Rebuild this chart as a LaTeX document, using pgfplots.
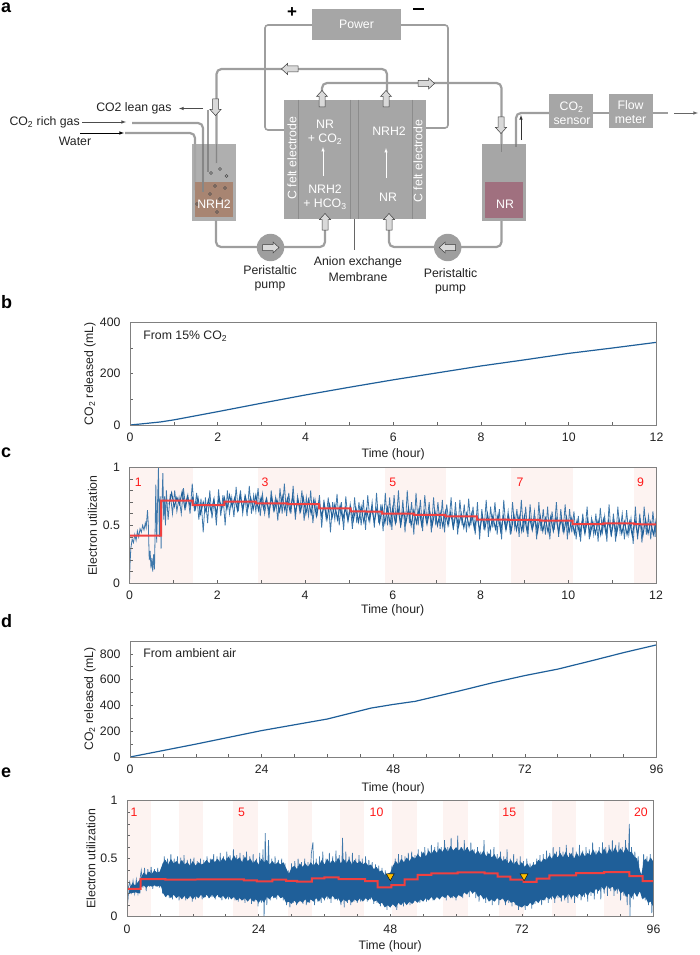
\documentclass[border=0pt]{standalone}
\usepackage{fontspec}
\usepackage{pgfplots}
\pgfplotsset{compat=1.18}
\setmainfont{Liberation Sans}
\definecolor{boxg}{HTML}{A6A6A6}
\definecolor{lineg}{HTML}{8C8C8C}
\definecolor{tube}{HTML}{9E9E9E}
\definecolor{txt}{HTML}{222222}
\definecolor{blue1}{HTML}{1F5F99}
\definecolor{blue2}{HTML}{3F78AB}
\definecolor{redl}{HTML}{F04040}
\definecolor{shadeP}{HTML}{FDF3F1}
\definecolor{tri}{HTML}{FFC000}
\definecolor{brownB}{HTML}{A88572}
\definecolor{purpB}{HTML}{A0707F}
\newcommand\fs[1]{\ifnum#1=12 \fontsize{12.3}{12.3}\else\fontsize{#1}{#1}\fi\selectfont}
\newcommand\harrow[3]{\begin{scope}[shift={(#1,#2)},rotate=#3]
\path[fill=gray!30,draw=black!75,line width=.5pt] (0,-8.5)--(5.5,-2.5)--(3,-2.5)--(3,8)--(-3,8)--(-3,-2.5)--(-5.5,-2.5)--cycle;\end{scope}}
\newcommand\sh[2]{\addplot[fill=shadeP,draw=none,forget plot] coordinates {(#1,0)(#1,1)(#2,1)(#2,0)} -- cycle;}
\pgfplotsset{panel/.style={scale only axis,width=526.5pt,axis on top,
  axis line style={draw=gray,line width=.9pt},
  tick style={draw=gray!80!black,line width=.6pt},
  tick align=inside,tick pos=left,
  major tick length=3.2pt,minor tick length=3.2pt,
  tick label style={font=\fs{12},text=txt},
  /pgf/number format/assume math mode=true,
  xticklabel shift=4.5pt,yticklabel shift=6pt,
  label style={font=\fs{12},text=txt},
  xlabel={Time (hour)},
  xlabel style={at={(axis description cs:0.5,0)},anchor=center},
  ylabel style={at={(axis description cs:0,0.5)},anchor=center},
}}
\begin{document}
\begin{tikzpicture}
\path[use as bounding box] (0,0) rectangle (699pt,-955pt);
% ---------- panel a
\begin{scope}[x=1pt,y=-1pt]
\begin{scope}[line width=1.6pt,draw=tube,rounded corners=3pt]
\draw (312,25)--(265,25)--(265,130)--(286,130);
\draw (400,25)--(448,25)--(448,128)--(424,128);
\end{scope}
\fill[boxg] (312,9) rectangle (400.7,40);
\node[text=white,font=\fs{12}] at (356.5,24.5) {Power};
\node[font=\fs{17}\bfseries,text=black] at (292,12.5) {+};
\fill[black] (412.5,8.2) rectangle (423.5,9.8);
% cell
\fill[boxg] (284,100) rectangle (426,218.6);
\draw[lineg,line width=.5pt] (298,100)--(298,218.6) (350,100)--(350,218.6) (358,100)--(358,218.6) (412.7,100)--(412.7,218.6);
\draw[gray!80!black,line width=.5pt] (354,218.6)--(354,250);
\node[rotate=90,text=white,font=\fs{12}] at (292,158) {C felt electrode};
\node[rotate=90,text=white,font=\fs{12}] at (418,161) {C felt electrode};
\node[text=white,font=\fs{12}] at (325,124) {NR};
\node[text=white,font=\fs{12}] at (325,139.5) {+ CO\textsubscript{2}};
\node[text=white,font=\fs{12}] at (325,189) {NRH2};
\node[text=white,font=\fs{12}] at (325,204.5) {+ HCO\textsubscript{3}};
\node[text=white,font=\fs{12}] at (389,131) {NRH2};
\node[text=white,font=\fs{12}] at (388,197) {NR};
\draw[white,line width=.5pt,-latex] (323,176)--(323,147);
\draw[white,line width=.5pt,-latex] (386,178)--(386,148);
% tubes
\begin{scope}[line width=2.2pt,draw=tube,rounded corners=5pt]
\draw (387,100)--(387,69)--(216.5,69)--(216.5,163);
\draw (322,100)--(322,83)--(501.5,83)--(501.5,152);
\draw (216,220)--(216,247)--(325,247)--(325,225);
\draw (501.5,220)--(501.5,247)--(389,247)--(389,225);
\draw (516,146)--(516,113)--(552,113);
\draw (132,123)--(203,123)--(203,192);
\draw (125,133)--(195,133)--(195,190);
\draw (208,110)--(208,172);
\draw (592,113)--(610,113);
\draw (651,113)--(668,113);
\end{scope}
% beakers
\fill[boxg,opacity=.9] (192.3,144) rectangle (236,220.5);
\fill[boxg] (482,144) rectangle (525.7,220.5);
\fill[brownB] (195,182) rectangle (232.7,217);
\fill[purpB] (485,182) rectangle (523,218);
\begin{scope}[line width=1.6pt,draw=tube!85!black]
\draw (203,144)--(203,192);\draw (208,144)--(208,172);\draw (216.5,144)--(216.5,163);
\draw (501.5,144)--(501.5,152);\draw (516,144)--(516,147);
\end{scope}
\foreach \a/\b in {211/173,226.5/176,220/169,215/186,225/188,210/194,220/199,197/204,217/212}
  \draw[gray!60!black,line width=.5pt] (\a,\b) circle (1.5);
\node[text=white,font=\fs{12}] at (214,204) {NRH2};
\node[text=white,font=\fs{12}] at (505,204.5) {NR};
% pumps
\fill[tube] (270.5,247.5) circle (13.7);
\fill[tube] (447.7,247.5) circle (13.7);
\harrow{270.5}{247.5}{-90}
\harrow{447.7}{247.5}{90}
% hollow arrows
\harrow{290}{69}{90}
\harrow{322}{99}{0}
\harrow{215.5}{107}{180}
\harrow{426}{83.5}{-90}
\harrow{501}{125}{180}
\harrow{386}{99}{0}
\harrow{325}{222}{0}
\harrow{389}{222}{0}
% boxes right
\fill[boxg] (549.3,94) rectangle (593,128);
\fill[boxg] (609,94) rectangle (652.7,128);
\node[text=white,font=\fs{12}] at (571.5,107) {CO\textsubscript{2}};
\node[text=white,font=\fs{12}] at (572,121) {sensor};
\node[text=white,font=\fs{12}] at (630.5,105) {Flow};
\node[text=white,font=\fs{12}] at (630.5,120) {meter};
\draw[gray!80!black,line width=.6pt,-latex] (674,113)--(698,113);
\draw[gray!40!black,line width=.6pt,-latex] (521,140)--(521,115);
% left labels
\node[text=txt,font=\fs{12},anchor=east] at (175,108) {CO2 lean gas};
\draw[gray!60!black,line width=.6pt,-latex] (203,108.5)--(179,108.5);
\node[text=txt,font=\fs{12},anchor=west] at (6,122) {CO\textsubscript{2} rich gas};
\draw[gray!60!black,line width=.6pt,-latex] (82,122)--(126,122);
\node[text=txt,font=\fs{12}] at (75,141) {Water};
\draw[black,line width=.6pt,-latex] (80,133)--(124,133);
\node[text=txt,font=\fs{12}] at (270,270) {Peristaltic};
\node[text=txt,font=\fs{12}] at (270,286) {pump};
\node[text=txt,font=\fs{12}] at (450.5,273.5) {Peristaltic};
\node[text=txt,font=\fs{12}] at (450.5,289) {pump};
\node[text=txt,font=\fs{12}] at (358,262) {Anion exchange};
\node[text=txt,font=\fs{12}] at (358,277) {Membrane};
% panel letters
\foreach \l/\yy in {a/7.5,b/302,c/453,d/621,e/773}
  \node[font=\fs{18}\bfseries,text=black,anchor=west,inner sep=0pt] at (1,\yy) {\l};
\end{scope}
% ---------- panel b
\begin{axis}[panel,at={(130pt,-425pt)},anchor=south west,height=102.7pt,
  xmin=0,xmax=12,ymin=0,ymax=400,xtick={0,2,...,12},minor x tick num=1,
  ytick={0,200,400},minor y tick num=1,
  xlabel style={yshift=-29pt},
  ylabel={CO\textsubscript{2} released (mL)},ylabel style={yshift=40pt}]
\addplot[blue1,line width=1.2pt] coordinates {(0,0)(0.3,5)(0.7,12)(1,20)(2,52)(3,85)(4,117)(5,147)(6,176)(7,203)(8,230)(9,254)(10,279)(11,300)(12,322)};
\node[font=\fs{12},text=txt,anchor=west,inner sep=0pt] at (axis cs:0.3,347) {From 15\% CO\textsubscript{2}};
\end{axis}
% ---------- panel c
\begin{axis}[panel,at={(129.5pt,-583.3pt)},anchor=south west,height=116pt,
  xmin=0,xmax=12,ymin=0,ymax=1,xtick={0,2,...,12},minor x tick num=1,
  ytick={0,0.5,1},minor y tick num=4,
  xlabel style={yshift=-27pt},
  ylabel={Electron utilization},ylabel style={yshift=37pt}]
\sh{0}{1.44}\sh{2.94}{4.34}\sh{5.82}{7.22}\sh{8.7}{10.1}\sh{11.5}{12}
\addplot[blue2,line width=.8pt] coordinates {(0,0)(.01,.15)(.03,.3)(.06,.38)(.09,.35)(.12,.42)(.15,.37)(.18,.45)(.21,.4)(.24,.47)(.27,.44)(.3,.5)(.33,.46)(.36,.52)(.38,.48)(.41,.63)(.43,.5)(.45,.2)(.47,.28)(.49,.13)(.51,.22)(.53,.1)(.55,.25)(.57,.12)(.59,.6)(.6,.85)(.62,.35)(.64,.7)(.66,1)(.68,.4)(.7,.75)(.72,.3)(.74,.7)(.76,.95)(.78,.55)(.8,.75)(.82,.5)(.84,.8)
(.88,.55)(.93,.77)(.98,.6)(1.03,.8)(1.08,.62)(1.13,.74)(1.18,.6)(1.23,.82)(1.28,.65)(1.33,.76)(1.38,.6)(1.43,.86)(1.48,.62)(1.53,.78)(1.58,.55)(1.63,.73)(1.68,.44)(1.73,.74)(1.78,.52)(1.83,.8)(1.88,.56)(1.93,.72)(1.98,.5)(2.03,.81)(2.08,.58)(2.13,.76)(2.18,.5)(2.23,.8)(2.28,.6)(2.33,.74)(2.38,.57)(2.43,.83)(2.48,.62)(2.53,.8)(2.58,.6)(2.63,.75)(2.68,.58)(2.73,.84)(2.78,.6)(2.83,.76)(2.88,.62)(2.93,.82)(2.98,.58)(3.03,.77)(3.08,.6)(3.13,.72)(3.18,.56)(3.23,.8)(3.28,.63)(3.33,.74)(3.38,.54)(3.43,.82)(3.48,.6)(3.53,.86)(3.58,.58)(3.63,.78)(3.68,.6)(3.73,.84)(3.78,.55)(3.83,.75)(3.88,.62)(3.93,.8)(3.98,.54)(4.03,.74)(4.08,.58)(4.13,.8)(4.18,.52)(4.23,.72)(4.28,.6)(4.33,.76)(4.38,.48)(4.43,.72)(4.48,.56)(4.53,.74)(4.58,.44)(4.63,.7)(4.68,.55)(4.73,.77)(4.78,.5)(4.83,.7)(4.88,.46)(4.93,.75)(4.98,.54)(5.03,.68)(5.08,.47)(5.13,.74)(5.18,.52)(5.23,.7)(5.28,.5)(5.33,.72)(5.38,.46)(5.43,.76)(5.48,.54)(5.53,.7)(5.58,.48)(5.63,.78)(5.68,.52)(5.73,.68)(5.78,.45)(5.83,.78)(5.88,.5)(5.93,.74)(5.98,.46)(6.03,.76)(6.08,.52)(6.13,.8)(6.18,.48)(6.23,.72)(6.28,.44)(6.33,.8)(6.38,.52)(6.43,.7)(6.48,.42)(6.53,.78)(6.58,.5)(6.63,.72)(6.68,.45)(6.73,.76)(6.78,.52)(6.83,.7)(6.88,.44)(6.93,.74)(6.98,.5)(7.03,.7)(7.08,.47)(7.13,.72)(7.18,.44)(7.23,.68)(7.28,.52)(7.33,.74)(7.38,.46)(7.43,.7)(7.48,.42)(7.53,.72)(7.58,.5)(7.63,.68)(7.68,.44)(7.73,.73)(7.78,.5)(7.83,.66)(7.88,.42)(7.93,.7)(7.98,.38)(8.03,.64)(8.08,.46)(8.13,.72)(8.18,.4)(8.23,.66)(8.28,.48)(8.33,.7)(8.38,.42)(8.43,.64)(8.48,.38)(8.53,.72)(8.58,.46)(8.63,.62)(8.68,.42)(8.73,.7)(8.78,.48)(8.83,.64)(8.88,.4)(8.93,.72)(8.98,.44)(9.03,.66)(9.08,.4)(9.13,.68)(9.18,.47)(9.23,.62)(9.28,.38)(9.33,.7)(9.38,.45)(9.43,.64)(9.48,.42)(9.53,.66)(9.58,.38)(9.63,.62)(9.68,.46)(9.73,.7)(9.78,.4)(9.83,.64)(9.88,.44)(9.93,.68)(9.98,.38)(10.03,.64)(10.08,.44)(10.13,.62)(10.18,.38)(10.23,.58)(10.28,.36)(10.33,.6)(10.38,.44)(10.43,.66)(10.48,.38)(10.53,.56)(10.58,.42)(10.63,.6)(10.68,.36)(10.73,.65)(10.78,.44)(10.83,.58)(10.88,.36)(10.93,.68)(10.98,.4)(11.03,.6)(11.08,.36)(11.13,.66)(11.18,.44)(11.23,.6)(11.28,.38)(11.33,.63)(11.38,.42)(11.43,.56)(11.48,.34)(11.53,.66)(11.58,.38)(11.63,.6)(11.68,.35)(11.73,.66)(11.78,.42)(11.83,.58)(11.88,.38)(11.93,.62)(11.98,.4)(12,.56)};
\addplot[blue1,line width=1pt] coordinates {(.9,.68)(.96,.78)(1.02,.66)(1.08,.74)(1.14,.68)(1.2,.79)(1.26,.65)(1.32,.75)(1.38,.67)(1.44,.74)(1.5,.64)(1.56,.74)(1.62,.6)(1.68,.7)(1.74,.62)(1.8,.72)(1.86,.62)(1.92,.72)(1.98,.6)(2.04,.74)(2.1,.64)(2.16,.74)(2.22,.64)(2.28,.76)(2.34,.66)(2.4,.74)(2.46,.63)(2.52,.76)(2.58,.64)(2.64,.75)(2.7,.65)(2.76,.74)(2.82,.64)(2.88,.76)(2.94,.63)(3,.74)(3.06,.64)(3.12,.73)(3.18,.62)(3.24,.74)(3.3,.63)(3.36,.72)(3.42,.62)(3.48,.75)(3.54,.63)(3.6,.73)(3.66,.62)(3.72,.75)(3.78,.61)(3.84,.72)(3.9,.62)(3.96,.74)(4.02,.6)(4.08,.72)(4.14,.6)(4.2,.72)(4.26,.58)(4.32,.7)(4.38,.58)(4.44,.68)(4.5,.55)(4.56,.68)(4.62,.57)(4.68,.68)(4.74,.55)(4.8,.67)(4.86,.55)(4.92,.65)(4.98,.54)(5.04,.66)(5.1,.54)(5.16,.65)(5.22,.53)(5.28,.66)(5.34,.53)(5.4,.64)(5.46,.54)(5.52,.65)(5.58,.53)(5.64,.65)(5.7,.52)(5.76,.66)(5.82,.52)(5.88,.65)(5.94,.51)(6,.65)(6.06,.52)(6.12,.65)(6.18,.5)(6.24,.63)(6.3,.52)(6.36,.65)(6.42,.5)(6.48,.63)(6.54,.52)(6.6,.64)(6.66,.5)(6.72,.62)(6.78,.51)(6.84,.62)(6.9,.5)(6.96,.62)(7.02,.5)(7.08,.61)(7.14,.49)(7.2,.62)(7.26,.5)(7.32,.61)(7.38,.48)(7.44,.6)(7.5,.49)(7.56,.6)(7.62,.48)(7.68,.6)(7.74,.49)(7.8,.6)(7.86,.47)(7.92,.58)(7.98,.46)(8.04,.58)(8.1,.47)(8.16,.6)(8.22,.46)(8.28,.58)(8.34,.47)(8.4,.59)(8.46,.45)(8.52,.58)(8.58,.46)(8.64,.58)(8.7,.45)(8.76,.59)(8.82,.46)(8.88,.58)(8.94,.45)(9,.58)(9.06,.45)(9.12,.57)(9.18,.46)(9.24,.56)(9.3,.44)(9.36,.58)(9.42,.45)(9.48,.56)(9.54,.44)(9.6,.57)(9.66,.45)(9.72,.57)(9.78,.44)(9.84,.56)(9.9,.44)(9.96,.57)(10.02,.44)(10.08,.56)(10.14,.43)(10.2,.54)(10.26,.42)(10.32,.54)(10.38,.43)(10.44,.55)(10.5,.42)(10.56,.53)(10.62,.43)(10.68,.54)(10.74,.42)(10.8,.55)(10.86,.43)(10.92,.54)(10.98,.42)(11.04,.54)(11.1,.42)(11.16,.55)(11.22,.43)(11.28,.53)(11.34,.42)(11.4,.53)(11.46,.41)(11.52,.55)(11.58,.42)(11.64,.54)(11.7,.41)(11.76,.55)(11.82,.43)(11.88,.53)(11.94,.42)(12,.53)};
\addplot[redl,line width=2pt] coordinates {(0,.41)(.72,.41)(.72,.713)(1.44,.713)(1.44,.675)(2.16,.675)(2.16,.704)(2.88,.704)(2.88,.69)(3.6,.69)(3.6,.682)(4.32,.682)(4.32,.647)(5.04,.647)(5.04,.62)(5.76,.618)(5.76,.60)(6.48,.60)(6.48,.59)(7.2,.59)(7.2,.578)(7.92,.578)(7.92,.55)(8.64,.55)(8.64,.546)(9.36,.546)(9.36,.54)(10.1,.54)(10.1,.51)(10.8,.51)(10.8,.517)(11.5,.517)(11.5,.51)(12,.507)};
\foreach \a/\l in {.2/1,3.09/3,6/5,8.9/7,11.65/9}{\edef\tmp{\noexpand\node[font=\noexpand\fs{12},text=red!90!white] at (axis cs:\a,.867) {\l};}\tmp}
\end{axis}
% ---------- panel d
\begin{axis}[panel,at={(130pt,-757pt)},anchor=south west,height=116pt,
  xmin=0,xmax=96,ymin=0,ymax=900,xtick={0,24,...,96},minor x tick num=3,
  ytick={0,200,...,800},minor y tick num=1,
  xlabel style={yshift=-31pt},
  ylabel={CO\textsubscript{2} released (mL)},ylabel style={yshift=40pt}]
\addplot[blue1,line width=1.2pt] coordinates {(0,0)(6,50)(12,100)(24,205)(36,295)(44,380)(48,408)(52,432)(60,512)(66,575)(72,632)(78,682)(84,745)(90,810)(96,870)};
\node[font=\fs{12},text=txt,anchor=west,inner sep=0pt] at (axis cs:2.4,805) {From ambient air};
\end{axis}
% ---------- panel e
\begin{axis}[panel,at={(127pt,-916.7pt)},anchor=south west,height=116pt,
  xmin=0,xmax=96,ymin=0,ymax=1,xtick={0,24,...,96},minor x tick num=3,
  ytick={0,0.5,1},minor y tick num=4,
  xlabel style={yshift=-30pt},
  ylabel={Electron utilization},ylabel style={yshift=36pt}]
\sh{0}{4.43}\sh{9.5}{13.9}\sh{19.4}{23.9}\sh{29.3}{33.7}\sh{38.9}{43.3}\sh{48.4}{52.9}\sh{57.7}{62.2}\sh{67.9}{72.3}\sh{77.5}{81.9}\sh{87}{91.5}
\addplot[blue2,line width=.7pt] coordinates {(0,0)(.2,.24)(.5,.3)(.8,.21)(1.1,.31)(1.4,.2)(1.7,.32)(2,.2)(2.3,.3)
(2.6,.40)(2.9,.25)(3.2,.42)(3.5,.22)(3.8,.41)(4.1,.26)(4.4,.43)(4.7,.24)(5,.41)(5.3,.26)(5.6,.42)(5.9,.25)(6.2,.41)(6.5,.2)
(6.8,.52)(7.1,.17)(7.4,.5)(7.7,.16)(8,.54)(8.3,.15)(8.6,.5)(8.9,.17)(9.2,.52)(9.5,.14)(9.8,.51)(10.1,.16)(10.4,.53)(10.7,.14)(11,.49)(11.3,.16)(11.6,.5)(11.9,.13)(12.2,.51)(12.5,.15)(12.8,.48)(13.1,.16)(13.4,.5)(13.7,.15)(14,.49)(14.3,.17)(14.6,.52)(14.9,.16)(15.2,.5)(15.5,.17)(15.8,.54)(16.1,.15)(16.4,.52)(16.7,.17)(17,.55)(17.3,.14)(17.6,.52)(17.9,.16)(18.2,.56)(18.5,.15)(18.8,.53)(19.1,.16)(19.4,.58)(19.7,.14)(20,.53)(20.3,.13)(20.6,.55)(20.9,.14)(21.2,.53)(21.5,.12)(21.8,.56)(22.1,.14)(22.4,.52)(22.7,.11)(23,.54)(23.3,.13)(23.6,.5)(23.9,.09)(24.2,.55)(24.5,.12)(24.8,.58)(25,0)(25.2,.72)(25.5,.1)(25.8,.66)(26.1,.14)
(26.4,.5)(26.7,.16)(27,.52)(27.3,.15)(27.6,.49)(27.9,.17)(28.2,.5)(28.5,.14)(28.8,.46)(29.1,.1)(29.4,.4)(29.7,.08)(30,.46)(30.3,.12)(30.6,.48)(30.9,.1)(31.2,.5)(31.5,.13)(31.8,.47)(32.1,.11)(32.4,.5)(32.7,.1)(33,.47)(33.3,.12)(33.6,.54)(33.9,.64)(34.2,.1)(34.5,.5)(34.8,.13)(35.1,.52)(35.4,.12)(35.7,.56)(36,.14)(36.3,.5)(36.6,.15)(36.9,.55)(37.2,.12)(37.5,.52)(37.8,.15)(38.1,.57)(38.4,.14)(38.7,.53)(39,.1)(39.3,.68)(39.6,.08)(39.9,.56)(40.2,.12)(40.5,.52)(40.8,.1)(41.1,.55)(41.4,.13)(41.7,.5)(42,.12)(42.3,.53)(42.6,.13)(42.9,.5)(43.2,.14)(43.5,.52)(43.8,.13)(44.1,.49)(44.4,.15)(44.7,.47)(45,.11)(45.3,.45)(45.6,.12)(45.9,.44)(46.2,.09)(46.5,.42)(46.8,.1)(47.1,.4)(47.4,.06)(47.7,.37)(48,.08)(48.3,.44)(48.6,.1)(48.9,.5)(49.2,.06)(49.5,.54)(49.8,.1)(50.1,.53)(50.4,.09)(50.7,.52)(51,.12)(51.3,.55)(51.6,.1)(51.9,.56)(52.2,.12)(52.5,.53)(52.8,.14)(53.1,.58)(53.4,.12)(53.7,.56)(54,.16)(54.3,.6)(54.6,.13)(54.9,.59)(55.2,.16)(55.5,.62)(55.8,.14)(56.1,.6)(56.4,.18)(56.7,.64)(57,.15)(57.3,.6)(57.6,.17)(57.9,.66)(58.2,.14)(58.5,.6)(58.8,.18)(59.1,.68)(59.4,.16)(59.7,.58)(60,.14)(60.3,.7)(60.6,.18)(60.9,.6)(61.2,.16)(61.5,.66)(61.8,.2)(62.1,.6)(62.4,.17)(62.7,.64)(63,.2)(63.3,.58)(63.6,.16)(63.9,.6)(64.2,.13)(64.5,.56)(64.8,.18)(65.1,.66)(65.4,.12)(65.7,.56)(66,.16)(66.3,.58)(66.6,.1)(66.9,.6)(67.2,.14)(67.5,.54)(67.8,.1)(68.1,.56)(68.4,.15)(68.7,.52)(69,.1)(69.3,.58)(69.6,.12)(69.9,.5)(70.2,.09)(70.5,.54)(70.8,.1)(71.1,.5)(71.4,.06)(71.7,.52)(72,.08)(72.3,.48)(72.6,.06)(72.9,.5)(73.2,.1)(73.5,.46)(73.8,.07)(74.1,.47)(74.4,.11)(74.7,.5)(75,.12)(75.3,.53)(75.6,.1)(75.9,.54)(76.2,.14)(76.5,.57)(76.8,.12)(77.1,.55)(77.4,.15)(77.7,.6)(78,.12)(78.3,.56)(78.6,.16)(78.9,.6)(79.2,.13)(79.5,.56)(79.8,.14)(80.1,.62)(80.4,.12)(80.7,.55)(81,.15)(81.3,.6)(81.6,.12)(81.9,.56)(82.2,.16)(82.5,.62)(82.8,.14)(83.1,.57)(83.4,.17)(83.7,.6)(84,.13)(84.3,.58)(84.6,.18)(84.9,.64)(85.2,.15)(85.5,.57)(85.8,.2)(86.1,.6)(86.4,.15)(86.7,.64)(87,.2)(87.3,.6)(87.6,.18)(87.9,.62)(88.2,.22)(88.5,.66)(88.8,.18)(89.1,.62)(89.4,.2)(89.7,.64)(90,.14)(90.3,.6)(90.6,.18)(90.9,.66)(91.2,.1)(91.6,.8)(91.7,0)(92,.6)(92.3,.15)(92.6,.56)(92.9,.18)(93.2,.52)(93.5,.3)(93.7,.36)(93.9,.16)(94.2,.54)(94.5,.14)(94.8,.52)(95.1,.1)(95.4,.54)(95.7,.03)(96,.5)};
\addplot[fill=blue1,draw=none] coordinates {(0,0)(.3,.2)(.5,.25)(1,.29)(1.5,.27)(2,.30)(2.5,.33)(3,.38)(3.5,.36)(4,.39)(4.5,.37)(5,.40)(5.5,.38)(6,.39)(6.5,.46)(7,.49)(7.5,.45)(8,.50)(8.5,.46)(9,.48)(9.5,.45)(10,.49)(10.5,.45)(11,.47)(11.5,.44)(12,.48)(12.5,.44)(13,.47)(13.5,.45)(14,.46)(14.5,.49)(15,.46)(15.5,.5)(16,.47)(16.5,.5)(17,.47)(17.5,.51)(18,.48)(18.5,.52)(19,.48)(19.5,.53)(20,.49)(20.5,.51)(21,.47)(21.5,.52)(22,.48)(22.5,.5)(23,.46)(23.5,.49)(24,.45)(24.5,.5)(25,.47)(25.5,.49)(26,.45)(26.5,.48)(27,.45)(27.5,.47)(28,.45)(28.5,.47)(29,.42)(29.5,.37)(30,.42)(30.5,.44)(31,.41)(31.5,.46)(32,.43)(32.5,.46)(33,.43)(33.5,.47)(34,.44)(34.5,.47)(35,.44)(35.5,.49)(36,.45)(36.5,.5)(37,.46)(37.5,.49)(38,.46)(38.5,.51)(39,.46)(39.5,.5)(40,.46)(40.5,.5)(41,.45)(41.5,.49)(42,.46)(42.5,.48)(43,.45)(43.5,.47)(44,.44)(44.5,.45)(45,.41)(45.5,.43)(46,.39)(46.5,.4)(47,.36)(47.5,.37)(48,.38)(48.5,.44)(49,.48)(49.5,.45)(50,.5)(50.5,.47)(51,.51)(51.5,.48)(52,.52)(52.5,.5)(53,.54)(53.5,.51)(54,.56)(54.5,.52)(55,.57)(55.5,.54)(56,.58)(56.5,.55)(57,.59)(57.5,.56)(58,.6)(58.5,.56)(59,.61)(59.5,.57)(60,.6)(60.5,.57)(61,.6)(61.5,.56)(62,.6)(62.5,.56)(63,.58)(63.5,.54)(64,.57)(64.5,.53)(65,.57)(65.5,.52)(66,.55)(66.5,.51)(67,.54)(67.5,.49)(68,.52)(68.5,.48)(69,.5)(69.5,.46)(70,.49)(70.5,.45)(71,.48)(71.5,.44)(72,.47)(72.5,.43)(73,.46)(73.5,.42)(74,.45)(74.5,.45)(75,.49)(75.5,.47)(76,.5)(76.5,.49)(77,.53)(77.5,.5)(78,.55)(78.5,.51)(79,.55)(79.5,.51)(80,.56)(80.5,.51)(81,.55)(81.5,.5)(82,.55)(82.5,.51)(83,.56)(83.5,.52)(84,.55)(84.5,.53)(85,.58)(85.5,.53)(86,.57)(86.5,.54)(87,.59)(87.5,.54)(88,.59)(88.5,.55)(89,.6)(89.5,.55)(90,.59)(90.5,.55)(91,.6)(91.5,.56)(92,.56)(92.5,.52)(93,.5)(93.5,.4)(93.8,.36)(94.2,.48)(94.5,.5)(95,.47)(95.5,.51)(96,.47)
(96,.08)(95.5,.13)(95,.12)(94.5,.17)(94,.15)(93.5,.22)(93,.17)(92.5,.21)(92,.16)(91.5,.2)(91,.17)(90.5,.22)(90,.2)(89.5,.25)(89,.22)(88.5,.26)(88,.24)(87.5,.27)(87,.23)(86.5,.26)(86,.22)(85.5,.24)(85,.2)(84.5,.22)(84,.18)(83.5,.21)(83,.17)(82.5,.2)(82,.17)(81.5,.19)(81,.16)(80.5,.2)(80,.16)(79.5,.19)(79,.16)(78.5,.19)(78,.15)(77.5,.18)(77,.15)(76.5,.17)(76,.14)(75.5,.15)(75,.12)(74.5,.14)(74,.1)(73.5,.12)(73,.09)(72.5,.1)(72,.08)(71.5,.09)(71,.1)(70.5,.13)(70,.12)(69.5,.15)(69,.12)(68.5,.16)(68,.14)(67.5,.16)(67,.13)(66.5,.15)(66,.13)(65.5,.17)(65,.15)(64.5,.19)(64,.17)(63.5,.22)(63,.2)(62.5,.23)(62,.19)(61.5,.21)(61,.17)(60.5,.19)(60,.16)(59.5,.18)(59,.16)(58.5,.19)(58,.16)(57.5,.18)(57,.15)(56.5,.17)(56,.14)(55.5,.17)(55,.14)(54.5,.16)(54,.13)(53.5,.15)(53,.12)(52.5,.14)(52,.11)(51.5,.13)(51,.1)(50.5,.13)(50,.1)(49.5,.12)(49,.08)(48.5,.11)(48,.08)(47.5,.1)(47,.08)(46.5,.12)(46,.11)(45.5,.14)(45,.13)(44.5,.17)(44,.14)(43.5,.16)(43,.13)(42.5,.16)(42,.13)(41.5,.15)(41,.12)(40.5,.15)(40,.13)(39.5,.15)(39,.12)(38.5,.16)(38,.15)(37.5,.18)(37,.15)(36.5,.18)(36,.15)(35.5,.17)(35,.13)(34.5,.16)(34,.13)(33.5,.15)(33,.12)(32.5,.15)(32,.12)(31.5,.14)(31,.11)(30.5,.14)(30,.11)(29.5,.13)(29,.12)(28.5,.17)(28,.16)(27.5,.19)(27,.16)(26.5,.18)(26,.15)(25.5,.17)(25,.12)(24.5,.15)(24,.12)(23.5,.15)(23,.13)(22.5,.16)(22,.13)(21.5,.16)(21,.14)(20.5,.16)(20,.14)(19.5,.17)(19,.15)(18.5,.18)(18,.15)(17.5,.18)(17,.16)(16.5,.19)(16,.16)(15.5,.19)(15,.16)(14.5,.19)(14,.16)(13.5,.19)(13,.16)(12.5,.18)(12,.15)(11.5,.18)(11,.15)(10.5,.18)(10,.15)(9.5,.18)(9,.16)(8.5,.19)(8,.16)(7.5,.19)(7,.17)(6.5,.21)(6.3,.25)(6,.27)(5.5,.26)(5,.27)(4.5,.26)(4,.27)(3.5,.25)(3,.27)(2.5,.25)(2.4,.2)(1.5,.21)(.5,.2)(0,.2)} -- cycle;
\addplot[redl,line width=2pt] coordinates {(0,.24)(2.5,.24)(2.5,.325)(7,.325)(7,.32)(21.3,.322)(21.3,.313)(23.7,.313)(23.7,.305)(26.5,.305)(26.5,.32)(29,.32)(29,.31)(31,.31)(31,.303)(33.7,.303)(33.7,.33)(36,.33)(36,.34)(38.6,.34)(38.6,.325)(43.4,.325)(43.4,.307)(45.7,.307)(45.7,.253)(48.2,.253)(48.2,.273)(50.6,.273)(50.6,.322)(53,.322)(53,.36)(55.5,.36)(55.5,.374)(60.3,.374)(60.3,.382)(65.2,.382)(65.2,.374)(67.6,.374)(67.6,.345)(69.9,.345)(69.9,.319)(72.3,.319)(72.3,.30)(74.7,.30)(74.7,.328)(77,.328)(77,.356)(81.9,.356)(81.9,.376)(87,.376)(87,.385)(91.6,.385)(91.6,.35)(94,.35)(94,.307)(96,.307)};
\addplot[only marks,mark=triangle*,mark size=4.6pt,mark options={rotate=180,fill=tri,draw=none}] coordinates {(48,.35)(72.4,.35)};
\foreach \a/\l in {1.27/1,20.9/5,45.5/10,69.7/15,93.7/20}{\edef\tmp{\noexpand\node[font=\noexpand\fs{12},text=red!90!white] at (axis cs:\a,.897) {\l};}\tmp}
\end{axis}
\end{tikzpicture}
\end{document}
